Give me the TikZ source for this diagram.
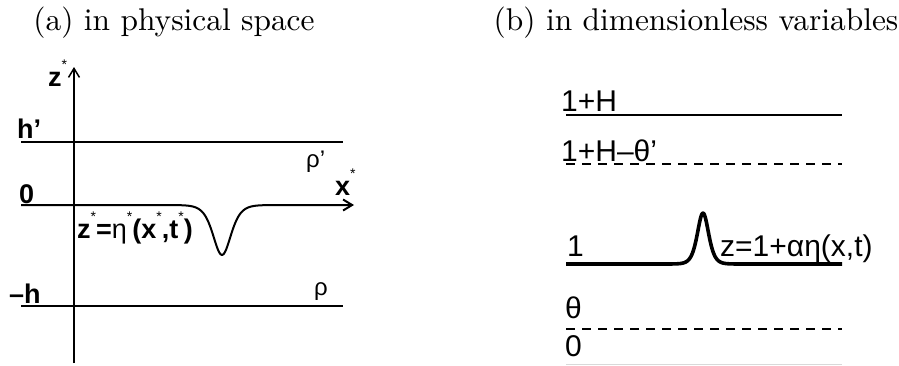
\documentclass[tikz,border=0pt]{standalone}
\usepackage{fontspec}
\newfontfamily\arialf{Liberation Sans}
\newfontfamily\cmten[Extension=.otf]{lmroman10-regular}
\usetikzlibrary{arrows.meta}
\newcommand{\astr}{\raisebox{0.62em}{\fontsize{14}{14}\selectfont\mdseries *}}
\begin{document}
\begin{tikzpicture}[x=1pt,y=-1pt,
  lab/.style={anchor=base west, inner sep=0pt, font=\arialf\bfseries\fontsize{27}{27}\selectfont},
  rlab/.style={anchor=base west, inner sep=0pt, font=\arialf\fontsize{30}{30}\selectfont},
  ttl/.style={anchor=base, inner sep=0pt, font=\cmten\fontsize{31.4}{36}\selectfont},
  level/.style={line width=2pt},
  axis/.style={line width=1.5pt},
  barb/.style={-{Straight Barb[length=9pt,width=11pt]}},
  dashlevel/.style={line width=2pt, dash pattern=on 9pt off 7pt},
  wave/.style={line width=3.6pt, line join=round},
]
\useasboundingbox (0,0) rectangle (899,365);

% titles
\node[ttl] (ta) at (174,30) {(a) in physical space};
\node[ttl] (tb) at (696,30) {(b) in dimensionless variables};

% ---------- left panel ----------
\coordinate (vb) at (74,363);
\coordinate (vt) at (74,67);
\draw[axis,barb] (vb) -- (vt);
\coordinate (hpL) at (21,142); \coordinate (hpR) at (343,142);
\draw[level] (hpL) -- (hpR);
\coordinate (hL) at (21,306); \coordinate (hR) at (343,306);
\draw[level] (hL) -- (hR);
\coordinate (xL) at (21,205); \coordinate (xR) at (354,205);
\draw[level,barb,line join=round] (xL) -- (168,205)
  -- plot[domain=168:276,samples=90] (\x,{205+50*pow(1/cosh((\x-222)/12),2)})
  -- (xR);

\node[lab] (zs) at (48,86) {z\astr};
\node[lab] (hp) at (17,138) {h’};
\node[lab] (zero) at (19,203) {0};
\node[lab] (mh) at (9,303) {–h};
\node[lab] (xs) at (335,195) {x\astr};
\node[lab,font=\arialf\fontsize{24}{24}\selectfont] (rhop) at (306,167) {ρ’};
\node[lab,font=\arialf\fontsize{24}{24}\selectfont] (rho) at (314,295) {ρ};
\node[lab,font=\arialf\bfseries\fontsize{27}{27}\selectfont] (eq) at (77,238)
  {z\astr={\mdseries η}\astr(x\astr,t\astr)};

% ---------- right panel ----------
\coordinate (HL) at (566,115); \coordinate (HR) at (842,115);
\draw[line width=2.5pt] (HL) -- (HR);
\coordinate (tpL) at (566,164); \coordinate (tpM) at (710,164); \coordinate (tpR) at (842,164);
\draw[dashlevel] (tpL) -- (tpM);
\draw[dashlevel] (tpM) -- (tpR);
\coordinate (wL) at (566,264); \coordinate (wR) at (842,264);
\draw[wave] (wL) -- (668,264)
  -- plot[domain=668:738,samples=90] (\x,{264-51*pow(1/cosh((\x-703)/7.5),2)})
  -- (wR);
\coordinate (thL) at (566,329); \coordinate (thM) at (710,329); \coordinate (thR) at (842,329);
\draw[dashlevel] (thL) -- (thM);
\draw[dashlevel] (thM) -- (thR);
\coordinate (zL) at (566,364); \coordinate (zR) at (842,364);
\draw[line width=1pt, black!15] (zL) -- (zR);

\node[rlab] (l1H) at (561,111) {1+H};
\node[rlab] (l1Ht) at (561,161) {1+H–θ’};
\node[rlab] (l1) at (567,256) {1};
\node[rlab] (leq) at (720,256) {z=1+αη(x,t)};
\node[rlab] (lth) at (565,318) {θ};
\node[rlab] (l0) at (565,356) {0};
\end{tikzpicture}
\end{document}
